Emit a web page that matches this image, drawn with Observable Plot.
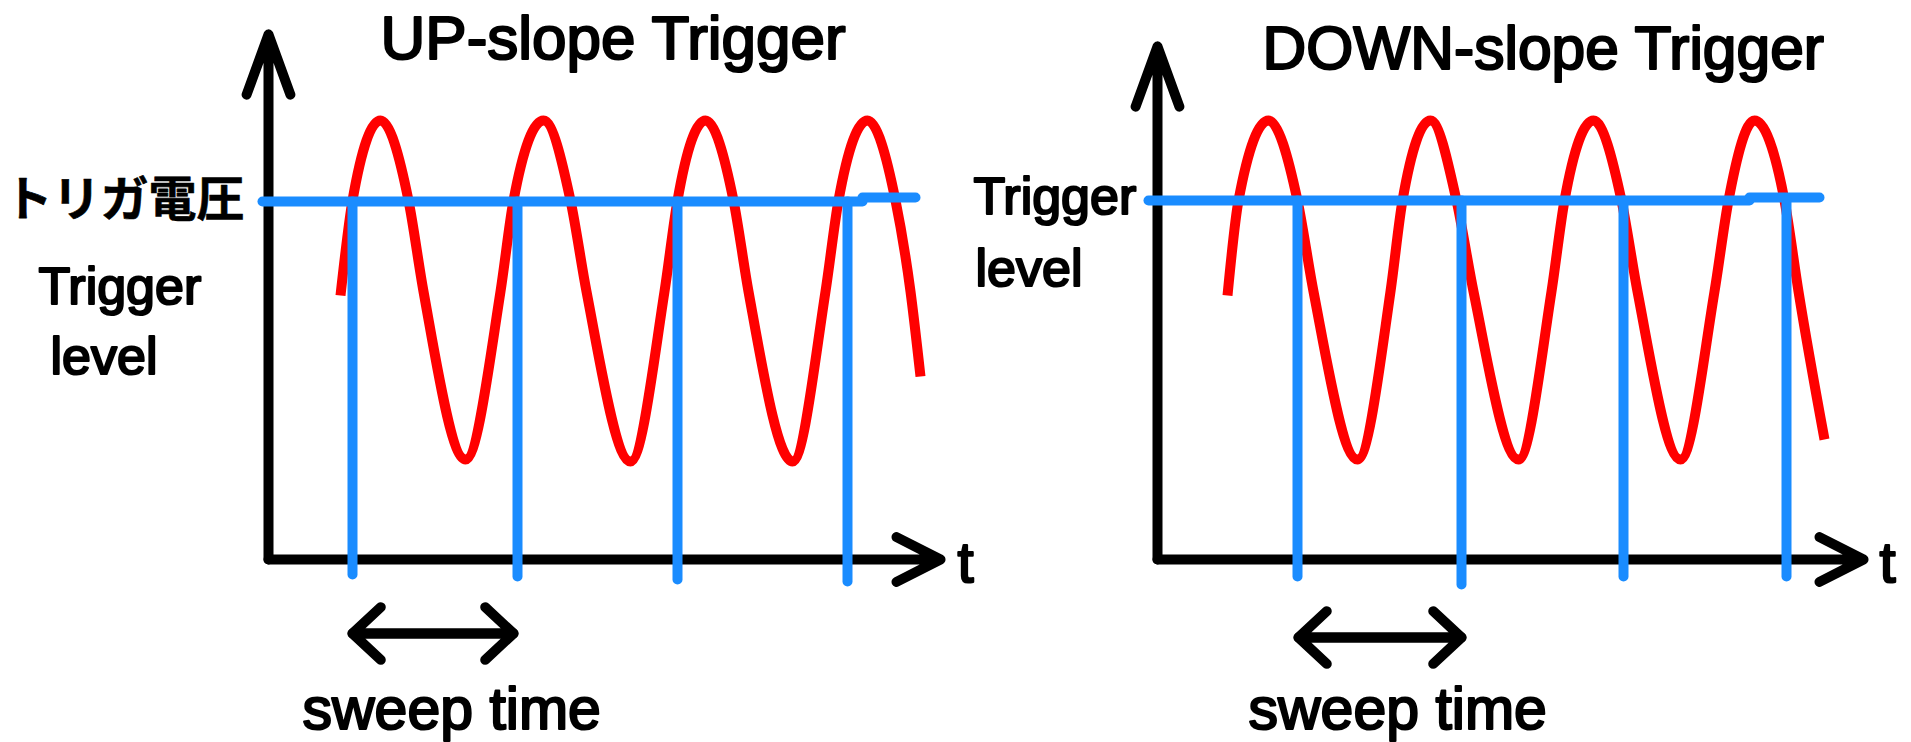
<!DOCTYPE html>
<html><head><meta charset="utf-8">
<script src="https://cdn.jsdelivr.net/npm/d3@7"></script>
<script src="https://cdn.jsdelivr.net/npm/@observablehq/plot@0.6"></script>
<style>
html,body{margin:0;padding:0;background:#fff;}
</style>
</head><body><div id="chart"></div>
<script>
// ---- data (time t and voltage v; t=0 / v=0 is each panel's axis origin)
const panels = ["UP-slope Trigger", "DOWN-slope Trigger"];

// red signal: key points (start, level crossings, mid crossings, peaks, troughs, end)
const upWaveT   = [72, 84, 112, 140, 155, 197, 232, 245, 275, 302, 318, 362, 396, 409, 437, 465, 480, 524, 557, 570, 599, 627, 642, 652];
const upWaveV   = [264, 359, 439, 359, 268, 100, 268, 359, 439, 359, 268, 98, 268, 359, 439, 359, 268, 98, 268, 359, 439, 359, 268, 183];
const downWaveT = [70, 81, 111, 140, 156, 200, 233, 245, 273, 299, 316, 361, 394, 407, 436, 464, 480, 523, 557, 571, 597, 627, 641, 667];
const downWaveV = [264, 359, 439, 359, 268, 100, 268, 359, 439, 359, 268, 100, 268, 359, 439, 359, 268, 100, 268, 359, 439, 359, 268, 120];

// blue trigger level (two hand-drawn strokes per panel)
const levelStartT = [-6, -9];
const levelJoinT  = [594, 592];
const levelEndT   = [647, 662];
const levelV      = [358, 359];
const levelTailV  = [362, 362];

// blue trigger instants (vertical markers) and where they stop below the time axis
const upTriggerT     = [84, 249, 409, 579];
const upTriggerEnd   = [-15, -17, -20, -22];
const downTriggerT   = [140, 304, 466, 629];
const downTriggerEnd = [-17, -25, -17, -17];

// axes (arrows)
const vAxisTop = [525, 513];
const tAxisEnd = [672, 706];

// sweep-time double arrow
const sweepFromT = [84, 141];
const sweepToT   = [245, 304];
const sweepV     = [-74, -78];

// texts
const titleT = [112, 105];
const titleV = [501, 491];
const titleSize = [62, 60.5];
const jaLabel = "トリガ電圧";
const jaLabelT = -24, jaLabelV = 359;
const enLabelLines = ["Trigger", "level"];
const enLabelT = [[-230, -218], [-184, -182]];
const enLabelV = [[256, 186], [346, 274]];
const timeLabel = "t";
const timeLabelT = [689, 722];
const timeLabelV = [-22, -22];
const sweepLabel = "sweep time";
const sweepLabelT = [34, 91];
const sweepLabelV = [-169, -169];

// ---- tables
const waves = [[upWaveT, upWaveV], [downWaveT, downWaveV]];
const wave = panels.flatMap((p, i) => waves[i][0].map((t, j) => ({panel: p, t, v: waves[i][1][j]})));
const levelSegs = panels.flatMap((p, i) => [
  {panel: p, t1: levelStartT[i], t2: levelJoinT[i], v1: levelV[i], v2: levelV[i]},
  {panel: p, t1: levelJoinT[i], t2: levelEndT[i], v1: levelTailV[i], v2: levelTailV[i]}
]);
const trigT = [upTriggerT, downTriggerT], trigE = [upTriggerEnd, downTriggerEnd];
const triggers = panels.flatMap((p, i) => trigT[i].map((t, j) => ({panel: p, t, v1: levelV[i], v2: trigE[i][j]})));
const axesV = panels.map((p, i) => ({panel: p, top: vAxisTop[i]}));
const axesT = panels.map((p, i) => ({panel: p, end: tAxisEnd[i]}));
const sweeps = panels.flatMap((p, i) => [
  {panel: p, a: sweepFromT[i], b: sweepToT[i], v: sweepV[i]},
  {panel: p, a: sweepToT[i], b: sweepFromT[i], v: sweepV[i]}
]);
const titles = panels.map((p, i) => ({panel: p, text: p, t: titleT[i], v: titleV[i], size: titleSize[i]}));
const enLabels = panels.flatMap((p, i) => enLabelLines.map((s, j) => ({panel: p, text: s, t: enLabelT[i][j], v: enLabelV[i][j]})));
const jaLabels = [{panel: panels[0], text: jaLabel, t: jaLabelT, v: jaLabelV}];
const timeLabels = panels.map((p, i) => ({panel: p, text: timeLabel, t: timeLabelT[i], v: timeLabelV[i]}));
const sweepLabels = panels.map((p, i) => ({panel: p, text: sweepLabel, t: sweepLabelT[i], v: sweepLabelV[i]}));

// ---- plot
const FONT = '"Liberation Sans", Arial, sans-serif';
const JA_FONT = '"Noto Sans CJK JP", sans-serif';
const RED = "#ff0000", BLUE = "#1a8cff", INK = "#000";
const W = 1911, H = 742;
const step = 889, band = 625;
const txt = {fx: "panel", x: "t", y: "v", text: "text", fontFamily: FONT, fill: INK, stroke: INK, strokeWidth: 2.2, fontWeight: "normal"};

const chart = Plot.plot({
  width: W, height: H,
  marginLeft: 263, marginRight: W - 263 - step - band, marginTop: 0, marginBottom: 0,
  fx: {domain: panels, paddingInner: (step - band) / step, paddingOuter: 0, axis: null},
  x: {domain: [-5, 620], axis: null},
  y: {domain: [-183, 559], axis: null},
  style: {background: "#fff", overflow: "visible"},
  marks: [
    // axes
    Plot.arrow(axesV, {fx: "panel", x1: 0, y1: 0, x2: 0, y2: "top", stroke: INK, strokeWidth: 10, headAngle: 40, headLength: 9.6, strokeLinejoin: "round", strokeLinecap: "round"}),
    Plot.arrow(axesT, {fx: "panel", x1: 0, y1: 0, x2: "end", y2: 0, stroke: INK, strokeWidth: 10, headAngle: 54, headLength: 7.4, strokeLinejoin: "round", strokeLinecap: "round"}),
    // signal
    Plot.line(wave, {fx: "panel", x: "t", y: "v", z: "panel", stroke: RED, strokeWidth: 10, curve: "monotone-x", strokeLinecap: "butt", strokeLinejoin: "round"}),
    // trigger level and trigger instants
    Plot.link(levelSegs, {fx: "panel", x1: "t1", x2: "t2", y1: "v1", y2: "v2", stroke: BLUE, strokeWidth: 10, strokeLinecap: "round"}),
    Plot.link(triggers, {fx: "panel", x1: "t", x2: "t", y1: "v1", y2: "v2", stroke: BLUE, strokeWidth: 10, strokeLinecap: "round"}),
    // sweep time double arrow
    Plot.arrow(sweeps, {fx: "panel", x1: "a", y1: "v", x2: "b", y2: "v", stroke: INK, strokeWidth: 10, headAngle: 86, headLength: 5.8, strokeLinejoin: "round", strokeLinecap: "round"}),
    // texts
    Plot.text(titles, {...txt, textAnchor: "start", lineAnchor: "bottom", fontSize: "size"}),
    Plot.text(jaLabels, {...txt, fontFamily: JA_FONT, textAnchor: "end", lineAnchor: "middle", fontSize: 48, fontWeight: "bold", strokeWidth: 0.6}),
    Plot.text(enLabels, {...txt, textAnchor: "start", lineAnchor: "bottom", fontSize: 52}),
    Plot.text(timeLabels, {...txt, textAnchor: "start", lineAnchor: "bottom", fontSize: 58}),
    Plot.text(sweepLabels, {...txt, textAnchor: "start", lineAnchor: "bottom", fontSize: 59})
  ]
});
document.getElementById("chart").appendChild(chart);
</script>
</body></html>
